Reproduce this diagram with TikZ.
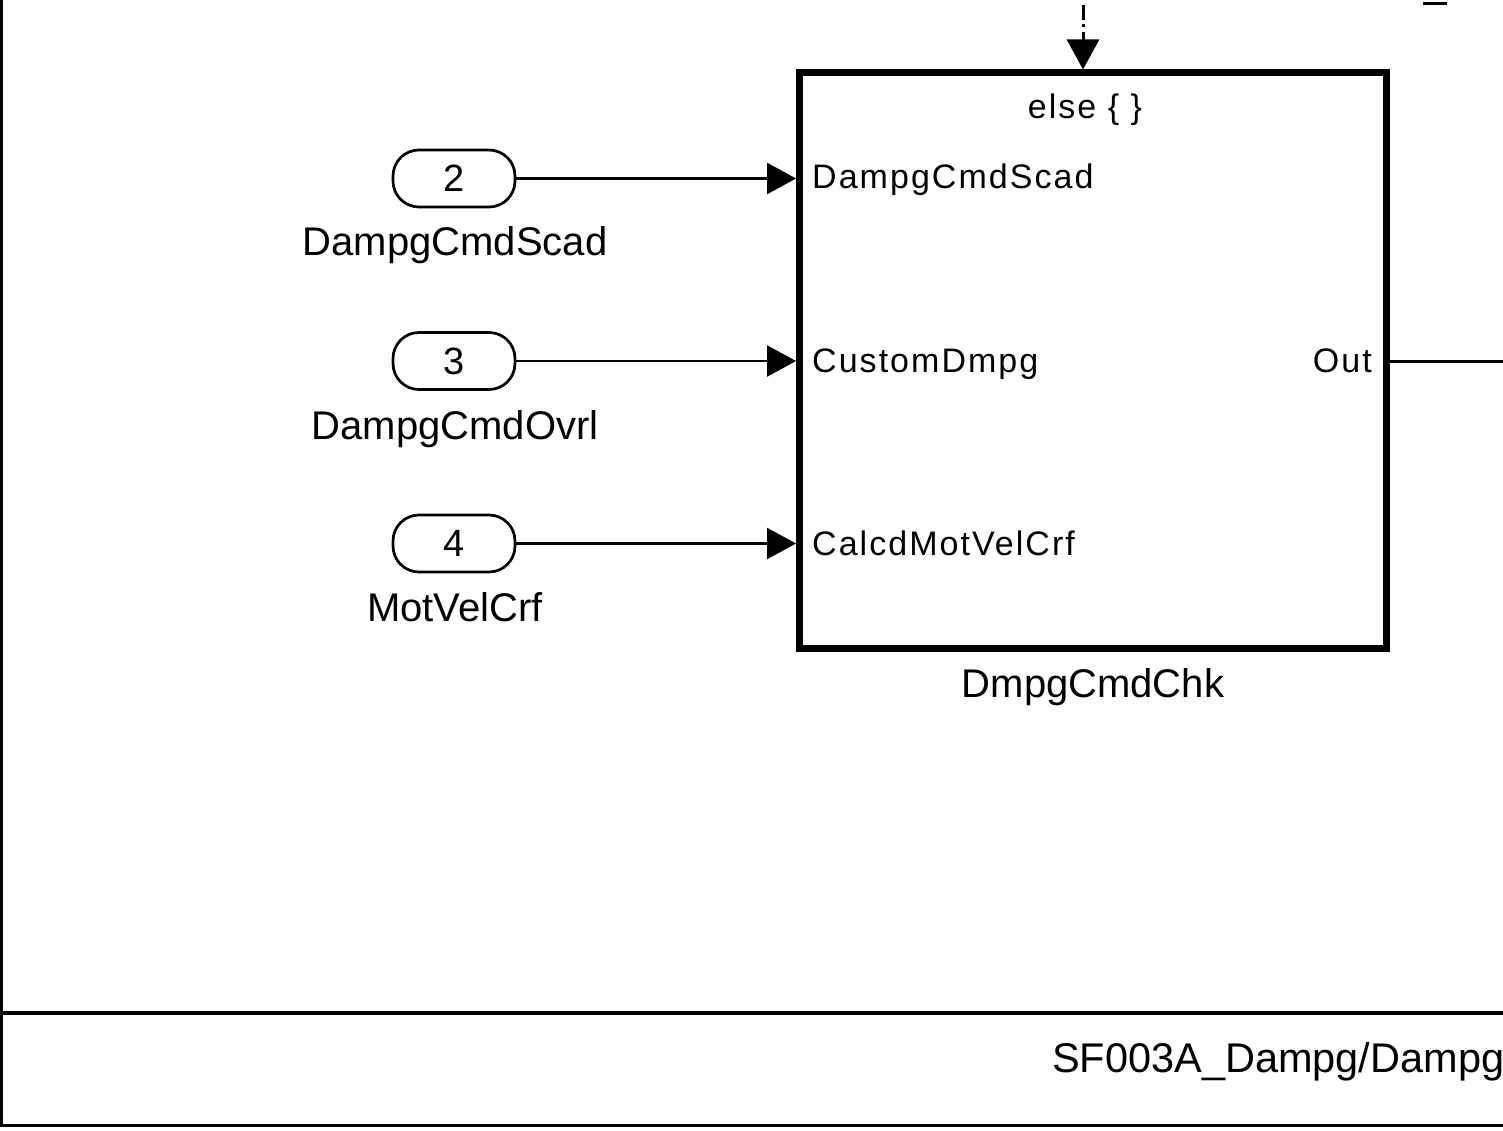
\documentclass[tikz,border=0pt]{standalone}
\usepackage{fontspec}
\setmainfont{Liberation Sans}
\newfontfamily\portfont[LetterSpace=6]{Liberation Sans}
\usetikzlibrary{arrows.meta}
\begin{document}
\begin{tikzpicture}[x=1pt,y=-1pt,
  frameline/.style={line width=3.5pt},
  wire/.style={line width=2.6pt},
  inarrow/.style={wire,-{Triangle[length=29pt,width=31pt]}},
  pill/.style={draw,line width=2.7pt,rounded corners=26pt,minimum width=122pt,minimum height=57pt,inner sep=0pt,font=\fontsize{38}{44}\selectfont},
  plabel/.style={font=\fontsize{40}{46}\selectfont,anchor=base,inner sep=0pt},
  ilabel/.style={font=\portfont\fontsize{34}{40}\selectfont,inner sep=0pt},
  blockbox/.style={draw,line width=7pt,minimum width=587pt,minimum height=575pt,inner sep=0pt}
]
\useasboundingbox (0,0) rectangle (1503,1131);
\begin{scope}
\clip (0,0) rectangle (1503,1131);
% frame
\draw[line width=3pt] (1.5,0) -- (1.5,1127);
\draw[line width=4pt] (0,1013) -- (1503,1013);
\draw[frameline] (0,1125.5) -- (1503,1125.5);
\draw[line width=3pt] (1423,3.5) -- (1447,3.5);
\node[anchor=base west,inner sep=0pt,font=\fontsize{41.5}{48}\selectfont] (title) at (1052,1072) {SF003A\_Dampg/Dampg};

% block
\node[blockbox] (blk) at (1093,360.5) {};
\node[ilabel,anchor=base] (elsel) at (1085,119) {else \{ \}};
\node[ilabel,anchor=base west] (l1) at (812,189) {DampgCmdScad};
\node[ilabel,anchor=base west] (l2) at (812,372) {CustomDmpg};
\node[ilabel,anchor=base west] (l3) at (812,555) {CalcdMotVelCrf};
\node[ilabel,anchor=base east] (lo) at (1372,372) {Out};
\node[plabel] (bname) at (1093,697) {DmpgCmdChk};

% inports
\node[pill] (p2) at (454,178.5) {2};
\node[pill] (p3) at (454,361) {3};
\node[pill] (p4) at (454,543.5) {4};
\node[plabel] (n2) at (455,256) {DampgCmdScad};
\node[plabel] (n3) at (455,439) {DampgCmdOvrl};
\node[plabel] (n4) at (455,621) {MotVelCrf};

\draw[inarrow] (p2.east) -- (p2.east -| blk.west);
\draw[inarrow] (p3.east) -- (p3.east -| blk.west);
\draw[inarrow] (p4.east) -- (p4.east -| blk.west);

% output
\coordinate (oend) at (1510,361);
\draw[line width=3pt] (blk.east |- oend) -- (oend);

% action port
\coordinate (topc) at (1083,5);
\draw[line width=3pt,dash pattern=on 15pt off 4pt on 3pt off 5pt,-{Triangle[length=30pt,width=32pt]}] (topc) -- (topc |- blk.north);
\end{scope}
\end{tikzpicture}
\end{document}
